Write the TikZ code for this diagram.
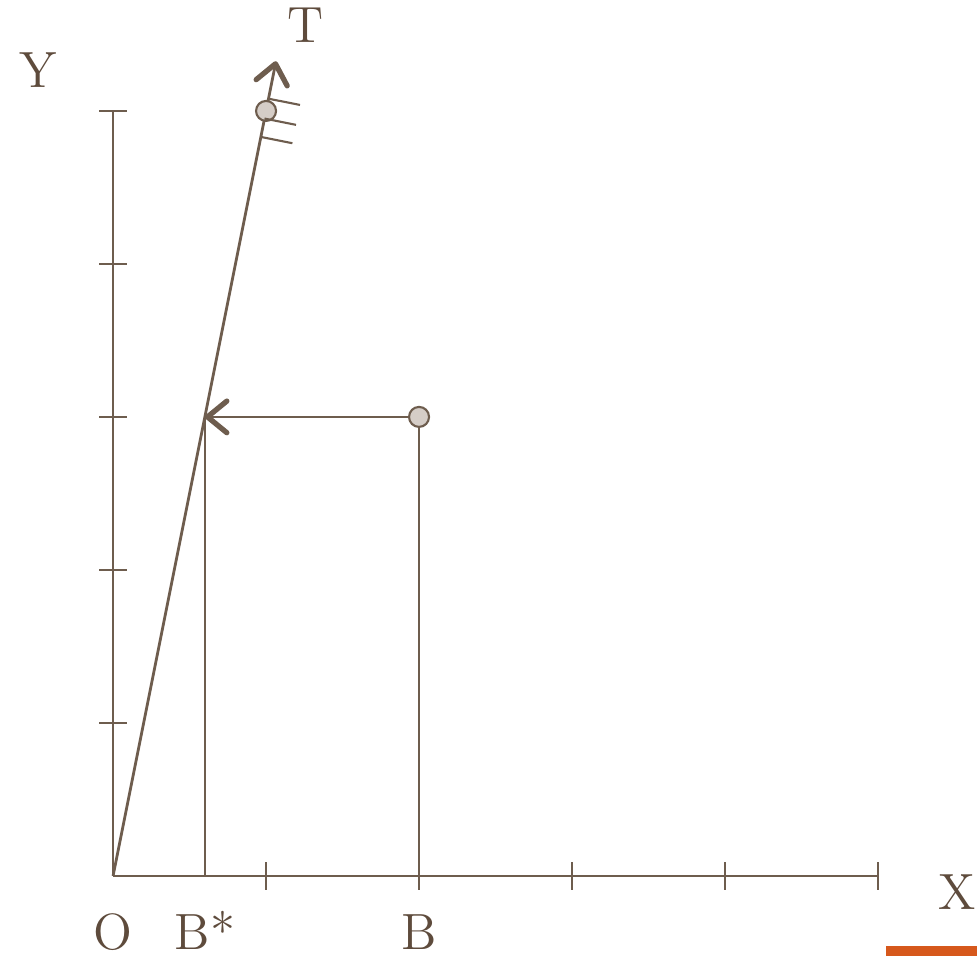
\documentclass[tikz,border=0pt]{standalone}
\usetikzlibrary{arrows.meta,calc}
\definecolor{AxeBrun}{HTML}{6E5D4E}
\definecolor{TexteBrun}{HTML}{5E4B3C}
\definecolor{PointGris}{HTML}{D5CDC7}
\definecolor{BarreOrange}{HTML}{D6581C}

\begin{document}
\begin{tikzpicture}[x=1.53cm,y=1.53cm,
  axe/.style={draw=AxeBrun,line width=0.6pt},
  fleche/.style={draw=AxeBrun,line width=0.8pt,-{Straight Barb[length=5.5pt,width=9pt,line width=1.5pt,round]}},
  point/.style={circle,draw=AxeBrun,fill=PointGris,line width=0.6pt,inner sep=0pt,minimum size=0.2cm},
  lab/.style={text=TexteBrun,font=\fontsize{14.5}{17}\selectfont,anchor=base,inner sep=0pt}]
  \useasboundingbox (-0.739,-0.523) rectangle (5.647,5.725);
  % axes
  \coordinate (O) at (0,0);
  \coordinate (Xend) at (5,0);
  \coordinate (Yend) at (0,5);
  \draw[axe] (O) -- (Xend);
  \draw[axe] (O) -- (Yend);
  \foreach \i in {1,...,5} {
    \draw[axe] (\i,-0.09) -- (\i,0.09);
    \draw[axe] (-0.09,\i) -- (0.09,\i);
  }
  % line T
  \coordinate (Ttip) at (1.065,5.325);
  \draw[fleche] (O) -- (Ttip);
  \node[point] (Tpt) at (1,5) {};
  \foreach \y in {5.08,4.95,4.83}
    \draw[axe] (\y/5,\y) -- ++(0.206,-0.041);
  % point B and its image B*
  \node[point] (B) at (2,3) {};
  \coordinate (Bstar) at (0.6,3);
  \coordinate (Bfoot) at (2,0);
  \coordinate (Bsfoot) at (0.6,0);
  \draw[axe] (B) -- (Bfoot);
  \draw[axe] (Bstar) -- (Bsfoot);
  \draw[fleche] (B) -- (Bstar);
  % labels
  \node[lab] (lT) at (1.261,5.444) {T};
  \node[lab] (lY) at (-0.49,5.15) {Y};
  \node[lab] (lX) at (5.516,-0.222) {X};
  \node[lab] (lO) at (0,-0.484) {O};
  \node[lab] (lBs) at (0.6,-0.484) {B*};
  \node[lab] (lB) at (2,-0.484) {B};
  % orange bar
  \fill[BarreOrange] (5.052,-0.458) rectangle (5.647,-0.523);
\end{tikzpicture}
\end{document}
